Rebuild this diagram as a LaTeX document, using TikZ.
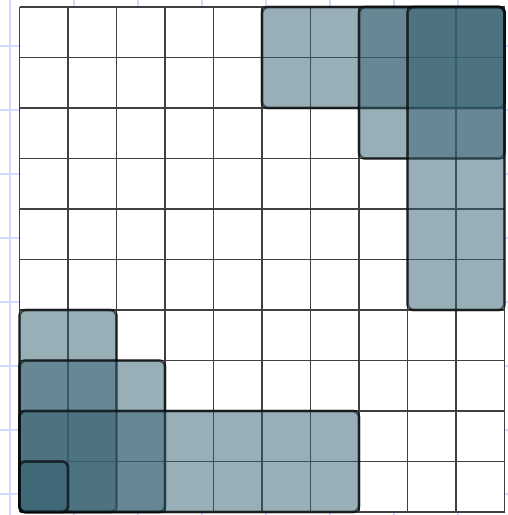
\documentclass[tikz,border=0pt]{standalone}
\usepackage{tikz}
\usepackage{xcolor}
\definecolor{blockcolor}{RGB}{53,97,113}
\definecolor{papercolor}{RGB}{208,218,255}

\begin{document}
\begin{tikzpicture}[x=24.25pt, y=25.25pt,
      paper/.style={papercolor, line width=0.9pt},
      cell/.style={draw=black!75, line width=0.6pt},
      blk/.style={fill=blockcolor, fill opacity=0.5, draw=black, draw opacity=0.6,
                  line width=1.4pt, rounded corners=3pt}]
    \useasboundingbox (-9.75pt,-1.5pt) rectangle (244.25pt,256pt);
    \foreach \x in {-4.75,27.25,...,219.25}
      \draw[paper] (\x pt,-1.5pt) -- (\x pt,256pt);
    \foreach \y in {9,41,...,233}
      \draw[paper] (-9.75pt,\y pt) -- (244.25pt,\y pt);
    \fill[white] (0,0) rectangle (10,10);
    \foreach \i in {0,...,10} {
      \draw[cell] (\i,0) -- (\i,10);
      \draw[cell] (0,\i) -- (10,\i);
    }
    \foreach \a/\b/\c/\d in {0/0/2/4, 0/0/3/3, 0/0/7/2, 0/0/1/1,
                             5/8/10/10, 7/7/10/10, 8/4/10/10}
      \draw[blk] (\a,\b) rectangle (\c,\d);
  \end{tikzpicture}
\end{document}
